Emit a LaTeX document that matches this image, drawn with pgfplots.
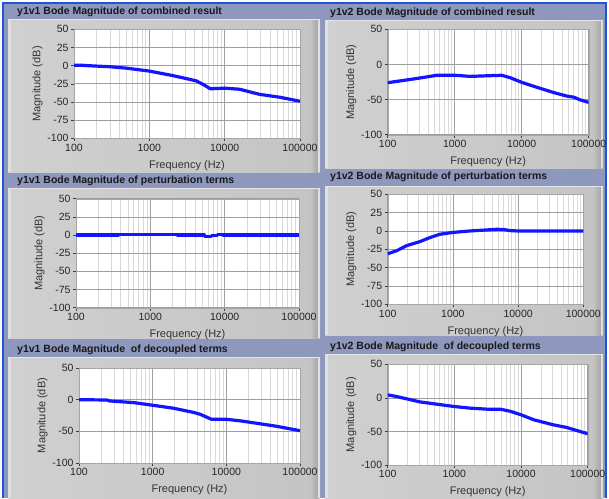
\documentclass[border=0pt]{standalone}
\usepackage{fontspec}
\setmainfont{Liberation Sans}
\usepackage{pgfplots}
\pgfplotsset{compat=1.18}
\definecolor{lav}{RGB}{142,151,190}
\definecolor{frameblue}{RGB}{30,85,215}
\definecolor{panelL}{RGB}{208,208,208}
\definecolor{panelR}{RGB}{196,196,196}
\definecolor{panelE}{RGB}{166,166,166}
\definecolor{curve}{RGB}{20,20,255}
\pgfplotsset{
  /pgf/number format/assume math mode=true,
  every axis/.append style={
    scale only axis,
    xmin=100, xmax=100000, ymin=-100, ymax=50,
    grid=both,
    major grid style={draw=black!38, line width=0.7pt},
    minor grid style={draw=black!15, line width=0.8pt},
    axis line style={draw=black!35},
    tick pos=left,
    tick align=outside,
    major tick length=3pt,
    minor tick length=0pt,
    tick style={draw=black!75, line width=0.6pt},
    tick label style={font=\fontsize{10.5}{12}\selectfont, text=black!85},
    label style={font=\fontsize{11}{13}\selectfont, text=black!80},
    xlabel style={yshift=-2pt},
    ylabel style={yshift=-2pt},
    xticklabel style={yshift=1pt},
    yticklabel style={xshift=1pt},
  },
}
\newcommand{\mypanel}[4]{%
  \shade[left color=panelL, right color=panelR] (#1pt,-#2pt) rectangle (#3pt,-#4pt);
  \shade[left color=panelR, right color=panelE] (#3pt-10pt,-#2pt) rectangle (#3pt-2pt,-#4pt);
  \fill[black!12] (#3pt-2pt,-#2pt) rectangle (#3pt,-#4pt);
  \fill[black!12] (#1pt,-#2pt) rectangle (#1pt+3pt,-#4pt);
  \draw[black!10, line width=1.2pt] (#1pt,-#2pt-0.6pt) -- (#3pt,-#2pt-0.6pt);
}
\newcommand{\mytitle}[3]{\node[anchor=west, inner sep=0pt, font=\fontsize{10.5}{12}\selectfont\bfseries, text=black!90] at (#1pt,-#2pt) {#3};}
\begin{document}
\begin{tikzpicture}
\useasboundingbox (0pt,0pt) rectangle (609pt,-498pt);
\fill[white] (0pt,0pt) rectangle (609pt,-498pt);
\fill[lav] (3pt,-3pt) rectangle (606pt,-498pt);
\draw[frameblue, line width=2pt] (3pt,-498pt) -- (3pt,-3pt) -- (606pt,-3pt) -- (606pt,-498pt);
\mypanel{8}{19}{320}{172}
\mypanel{325}{20}{603}{168}
\mypanel{8}{188}{320}{338}
\mypanel{325}{186}{603}{335}
\mypanel{8}{357}{320}{498}
\mypanel{325}{354}{603}{498}
\mytitle{17}{12}{y1v1 Bode Magnitude of combined result}
\mytitle{330}{13}{y1v2 Bode Magnitude of combined result}
\mytitle{17}{181}{y1v1 Bode Magnitude of perturbation terms}
\mytitle{330}{177}{y1v2 Bode Magnitude of perturbation terms}
\mytitle{17}{350}{y1v1 Bode Magnitude~~of decoupled terms}
\mytitle{330}{347}{y1v2 Bode Magnitude~~of decoupled terms}

\begin{axis}[xmode=log, at={(74pt,-29.3pt)}, anchor=north west, width=226pt, height=109pt,
  xtick={100,1000,10000,100000}, xticklabels={100,1000,10000,100000},
  ytick={-100,-75,-50,-25,0,25,50}, axis background/.style={fill=white},
  xlabel={Frequency (Hz)}, ylabel={Magnitude (dB)}]
\addplot[draw=curve, line width=3.2pt, mark=none, line join=round] coordinates {(100,0.5) (130,0.5) (150,0) (300,-1.5) (500,-3.5) (1000,-7.5) (2000,-13.5) (3000,-17.5) (4200,-21) (5200,-26) (6500,-32) (7500,-31.5) (10000,-31) (15800,-32.5) (29000,-39.5) (54000,-43.5) (100000,-49)};
\end{axis}

\begin{axis}[xmode=log, at={(387.7pt,-29.3pt)}, anchor=north west, width=201pt, height=105.4pt,
  xtick={100,1000,10000,100000}, xticklabels={100,1000,10000,100000},
  ytick={-100,-50,0,50}, axis background/.style={fill=white},
  xlabel={Frequency (Hz)}, ylabel={Magnitude (dB)}]
\addplot[draw=curve, line width=3.2pt, mark=none, line join=round] coordinates {(100,-26) (242,-20.7) (430,-17) (540,-15.4) (1000,-15.4) (1700,-17) (3400,-16) (5000,-15.4) (6700,-18.8) (10000,-25.5) (15000,-31) (30000,-40) (47000,-45) (60000,-46.6) (75000,-50.5) (100000,-54)};
\end{axis}

\begin{axis}[xmode=log, at={(76pt,-198.7pt)}, anchor=north west, width=223pt, height=109pt,
  xtick={100,1000,10000,100000}, xticklabels={100,1000,10000,100000},
  ytick={-100,-75,-50,-25,0,25,50}, axis background/.style={fill=white},
  xlabel={Frequency (Hz)}, ylabel={Magnitude (dB)}]
\addplot[draw=curve, line width=3.2pt, mark=none, line join=round] coordinates {(100,0) (370,0) (370,1) (2300,1) (2300,0) (5300,0) (5300,-1.5) (6600,-1.5) (6600,-0.5) (8000,-0.5) (8000,1) (9500,1) (9500,0) (100000,0)};
\end{axis}

\begin{axis}[xmode=log, at={(387.7pt,-194.3pt)}, anchor=north west, width=195.6pt, height=110pt,
  xtick={100,1000,10000,100000}, xticklabels={100,1000,10000,100000},
  ytick={-100,-75,-50,-25,0,25,50}, axis background/.style={fill=white},
  xlabel={Frequency (Hz)}, ylabel={Magnitude (dB)}]
\addplot[draw=curve, line width=3.2pt, mark=none, line join=round] coordinates {(100,-31) (137,-27) (195,-20) (312,-14.5) (445,-9) (630,-4.5) (1000,-2) (1800,0) (3300,1.4) (4700,2.3) (6000,2) (7500,0.5) (10000,0) (100000,0)};
\end{axis}

\begin{axis}[xmode=log, at={(79pt,-368pt)}, anchor=north west, width=221pt, height=95pt,
  xtick={100,1000,10000,100000}, xticklabels={100,1000,10000,100000},
  ytick={-100,-50,0,50}, axis background/.style={fill=white},
  xlabel={Frequency (Hz)}, ylabel={Magnitude (dB)}]
\addplot[draw=curve, line width=3.2pt, mark=none, line join=round] coordinates {(100,0) (237,-0.5) (260,-2) (550,-4.6) (1000,-8.8) (1900,-13.4) (3560,-20) (4400,-23) (6300,-31) (10000,-31) (15700,-33.5) (28500,-38) (48000,-42) (100000,-49)};
\end{axis}

\begin{axis}[xmode=log, at={(387.7pt,-364.3pt)}, anchor=north west, width=200pt, height=100.7pt,
  xtick={100,1000,10000,100000}, xticklabels={100,1000,10000,100000},
  ytick={-100,-50,0,50}, axis background/.style={fill=white},
  xlabel={Frequency (Hz)}, ylabel={Magnitude (dB)}]
\addplot[draw=curve, line width=3.2pt, mark=none, line join=round] coordinates {(100,4.5) (136,2) (204,-2) (305,-6) (545,-9.4) (1000,-12.9) (1730,-15.3) (3060,-16.8) (4850,-16.8) (6800,-19.8) (10000,-25.2) (15600,-32.7) (30000,-40) (48000,-44) (100000,-53.5)};
\end{axis}
\end{tikzpicture}
\end{document}
